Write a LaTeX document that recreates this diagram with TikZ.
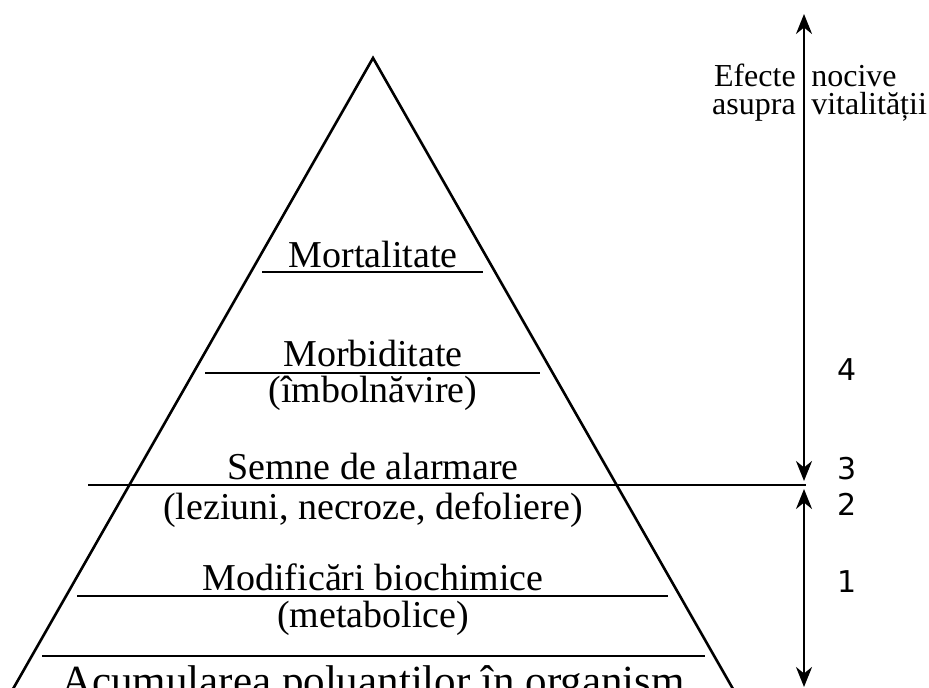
\documentclass[tikz,border=0pt]{standalone}
\usepackage{fontspec}
\setmainfont{Liberation Serif}
\newfontfamily\digitfont{DejaVu Sans}
\usetikzlibrary{arrows.meta,positioning}
\tikzstyle{level} = [anchor=base, inner sep=0pt, font=\fontsize{19}{22}\selectfont]
\tikzstyle{side} = [anchor=base, inner sep=0pt, font=\fontsize{16}{18}\selectfont]
\tikzstyle{digit} = [inner sep=0pt, font=\digitfont\fontsize{15}{18}\selectfont]
\tikzstyle{rule} = [line width=1.3pt]
\tikzstyle{scalearrow} = [{Stealth[length=10pt,width=8pt]}-{Stealth[length=10pt,width=8pt]}]

\begin{document}
\begin{tikzpicture}[x=0.5pt, y=-0.5pt, line width=1.3pt]
    \useasboundingbox (0,0) rectangle (929,688);
    \clip (0,0) rectangle (929,688);

    % pyramid
    \coordinate (apex) at (373,58);
    \coordinate (baseL) at (1,710);
    \coordinate (baseR) at (745,710);
    \draw (baseL) -- (apex) -- (baseR);

    % level rules
    \draw[rule] (262,272) -- (483,272);
    \draw[rule] (205,373) -- (540,373);
    \draw[rule] (88,485) -- (806,485);
    \draw[rule] (77,596) -- (668,596);
    \draw[rule] (42,656) -- (705,656);

    % level texts
    \node[level] (mort) at (373,268) {Mortalitate};
    \node[level] (morb) at (373,367) {Morbiditate};
    \node[level] (imb) at (373,403) {(îmbolnăvire)};
    \node[level] (semne) at (373,479) {Semne de alarmare};
    \node[level] (lez) at (373,519) {(leziuni, necroze, defoliere)};
    \node[level] (modif) at (373,590) {Modificări biochimice};
    \node[level] (metab) at (373,627) {(metabolice)};
    \node[level, font=\fontsize{21.5}{26}\selectfont] (acum) at (373,695) {Acumularea poluantilor în organism};

    % scale arrows
    \coordinate (top) at (804,14);
    \coordinate (mid1) at (804,481);
    \coordinate (mid2) at (804,489);
    \coordinate (bot) at (804,687);
    \draw[scalearrow] (mid1) -- (top);
    \draw[scalearrow] (mid2) -- (bot);

    \node[side, anchor=base east] (efecte) at (797,87) {Efecte};
    \node[side, anchor=base east] (asupra) at (797,115) {asupra};
    \node[side, anchor=base west] (nocive) at (810,87) {nocive};
    \node[side, anchor=base west] (vital) at (810,115) {vitalității};

    \node[digit] (d4) at (847,370) {4};
    \node[digit] (d3) at (847,469) {3};
    \node[digit] (d2) at (847,504) {2};
    \node[digit] (d1) at (847,582) {1};
\end{tikzpicture}
\end{document}
